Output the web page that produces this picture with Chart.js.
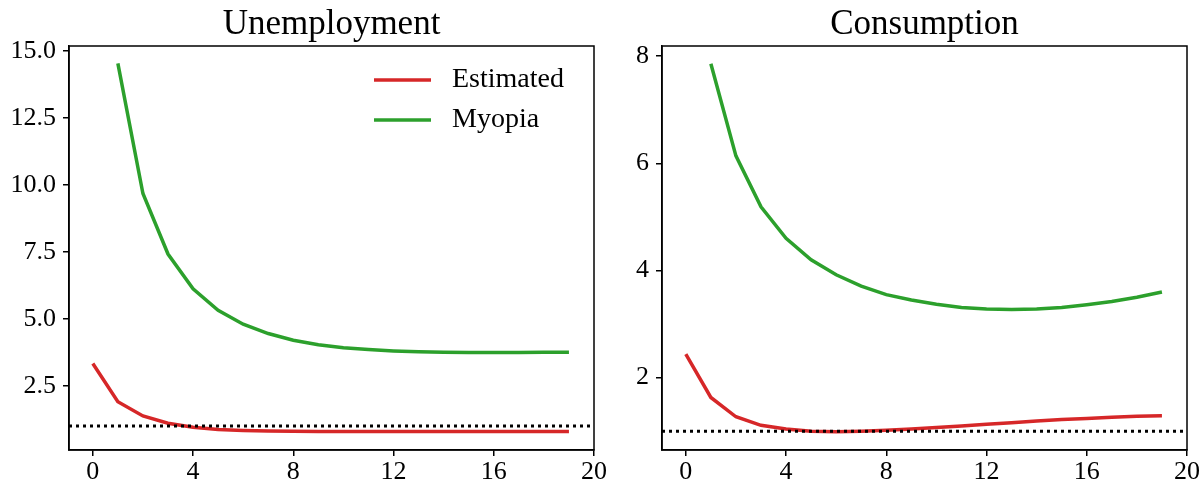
<!DOCTYPE html>
<html>
<head>
<meta charset="utf-8">
<script src="https://cdn.jsdelivr.net/npm/chart.js@4.4.1/dist/chart.umd.min.js"></script>
<style>
  body { margin: 0; background: #fff; }
  #wrap { position: relative; width: 1201px; height: 483px; }
  .panel { position: absolute; top: 0; height: 483px; }
  #p1 { left: 0; width: 625px; }
  #p2 { left: 610px; width: 591px; }
</style>
</head>
<body>
<div id="wrap">
  <div class="panel" id="p1"><canvas id="chartU"></canvas></div>
  <div class="panel" id="p2"><canvas id="chartC"></canvas></div>
</div>
<script>
// horizon (periods)
const periods = [0, 1, 2, 3, 4, 5, 6, 7, 8, 9, 10, 11, 12, 13, 14, 15, 16, 17, 18, 19];

// Unemployment panel
const unempEstimated = [3.33, 1.90, 1.37, 1.10, 0.95, 0.87, 0.83, 0.81, 0.80, 0.795,
                        0.79, 0.79, 0.79, 0.79, 0.79, 0.79, 0.79, 0.79, 0.79, 0.79];
const unempMyopia = [null, 14.54, 9.68, 7.42, 6.12, 5.32, 4.80, 4.45, 4.20, 4.03,
                     3.92, 3.85, 3.80, 3.77, 3.75, 3.74, 3.74, 3.74, 3.75, 3.75];

// Consumption panel
const consEstimated = [2.44, 1.63, 1.27, 1.11, 1.04, 1.00, 0.99, 1.00, 1.02, 1.04,
                       1.07, 1.10, 1.13, 1.16, 1.19, 1.22, 1.24, 1.26, 1.28, 1.29];
const consMyopia = [null, 7.86, 6.14, 5.19, 4.60, 4.20, 3.92, 3.71, 3.55, 3.45,
                    3.37, 3.31, 3.28, 3.27, 3.28, 3.31, 3.36, 3.42, 3.50, 3.60];

const baseline = 1;

// tick labels
const xTicks = [0, 4, 8, 12, 16, 20];
const unempTicks = [2.5, 5.0, 7.5, 10.0, 12.5, 15.0];
const consTicks = [2, 4, 6, 8];

const RED = '#d62728';
const GREEN = '#2ca02c';
const FONT = "'Liberation Serif', 'Times New Roman', serif";

function pts(ys) {
  return periods.map((p, i) => ({ x: p, y: ys[i] }));
}

// frame, dotted reference line and legend
const extras = {
  id: 'extras',
  afterDatasetsDraw(chart, args, opts) {
    const ctx = chart.ctx;
    const a = chart.chartArea;
    const y = chart.scales.y.getPixelForValue(baseline);
    ctx.save();
    ctx.strokeStyle = '#000';
    ctx.lineWidth = 3;
    ctx.lineCap = 'butt';
    ctx.setLineDash([3, 4]);
    ctx.beginPath();
    ctx.moveTo(a.left, y);
    ctx.lineTo(a.right, y);
    ctx.stroke();
    ctx.setLineDash([]);

    ctx.lineWidth = 1.5;
    ctx.strokeRect(a.left, a.top, a.right - a.left, a.bottom - a.top);

    if (opts.legend) {
      const ds = chart.data.datasets;
      ds.forEach((d, i) => {
        const yy = a.top + 34 + i * 40;
        ctx.strokeStyle = d.borderColor;
        ctx.lineWidth = 3.5;
        ctx.beginPath();
        ctx.moveTo(a.right - 220, yy);
        ctx.lineTo(a.right - 163, yy);
        ctx.stroke();
        ctx.fillStyle = '#000';
        ctx.font = '28px ' + FONT;
        ctx.textBaseline = 'middle';
        ctx.textAlign = 'left';
        ctx.fillText(d.label, a.right - 142, yy);
      });
    }
    ctx.restore();
  }
};

function makeChart(id, title, est, myo, yMin, yMax, yTicks, yWidth, padRight, decimals, legend) {
  return new Chart(document.getElementById(id), {
    type: 'line',
    data: {
      datasets: [
        { label: 'Estimated', data: pts(est), borderColor: RED, borderWidth: 3.5,
          pointRadius: 0, fill: false, tension: 0 },
        { label: 'Myopia', data: pts(myo), borderColor: GREEN, borderWidth: 3.5,
          pointRadius: 0, fill: false, tension: 0 }
      ]
    },
    options: {
      responsive: true,
      maintainAspectRatio: false,
      animation: false,
      layout: { padding: { left: 0, right: padRight, top: 0, bottom: 0 } },
      plugins: {
        legend: { display: false },
        tooltip: { enabled: false },
        title: {
          display: true,
          text: title,
          fullSize: false,
          color: '#000',
          font: { family: FONT, size: 35, weight: 'normal' },
          padding: { top: 4, bottom: 0 }
        },
        extras: { legend: legend }
      },
      scales: {
        x: {
          type: 'linear',
          min: -0.95,
          max: 20,
          afterBuildTicks: s => { s.ticks = xTicks.map(v => ({ value: v })); },
          afterFit: s => { s.height = 33; },
          grid: { drawOnChartArea: false, drawTicks: true, tickLength: 6, color: '#000', lineWidth: 1.5 },
          border: { color: '#000', width: 1.5 },
          ticks: { color: '#000', padding: 1, maxRotation: 0, font: { family: FONT, size: 26 } }
        },
        y: {
          min: yMin,
          max: yMax,
          afterBuildTicks: s => { s.ticks = yTicks.map(v => ({ value: v })); },
          afterFit: s => { s.width = yWidth; },
          grid: { drawOnChartArea: false, drawTicks: true, tickLength: 6, color: '#000', lineWidth: 1.5 },
          border: { color: '#000', width: 1.5 },
          ticks: {
            color: '#000', padding: 7, font: { family: FONT, size: 26 },
            callback: v => v.toFixed(decimals)
          }
        }
      }
    },
    plugins: [extras]
  });
}

makeChart('chartU', 'Unemployment', unempEstimated, unempMyopia, 0.1, 15.19, unempTicks, 69, 31, 1, true);
makeChart('chartC', 'Consumption', consEstimated, consMyopia, 0.65, 8.19, consTicks, 52, 12.5, 0, false);
</script>
</body>
</html>
